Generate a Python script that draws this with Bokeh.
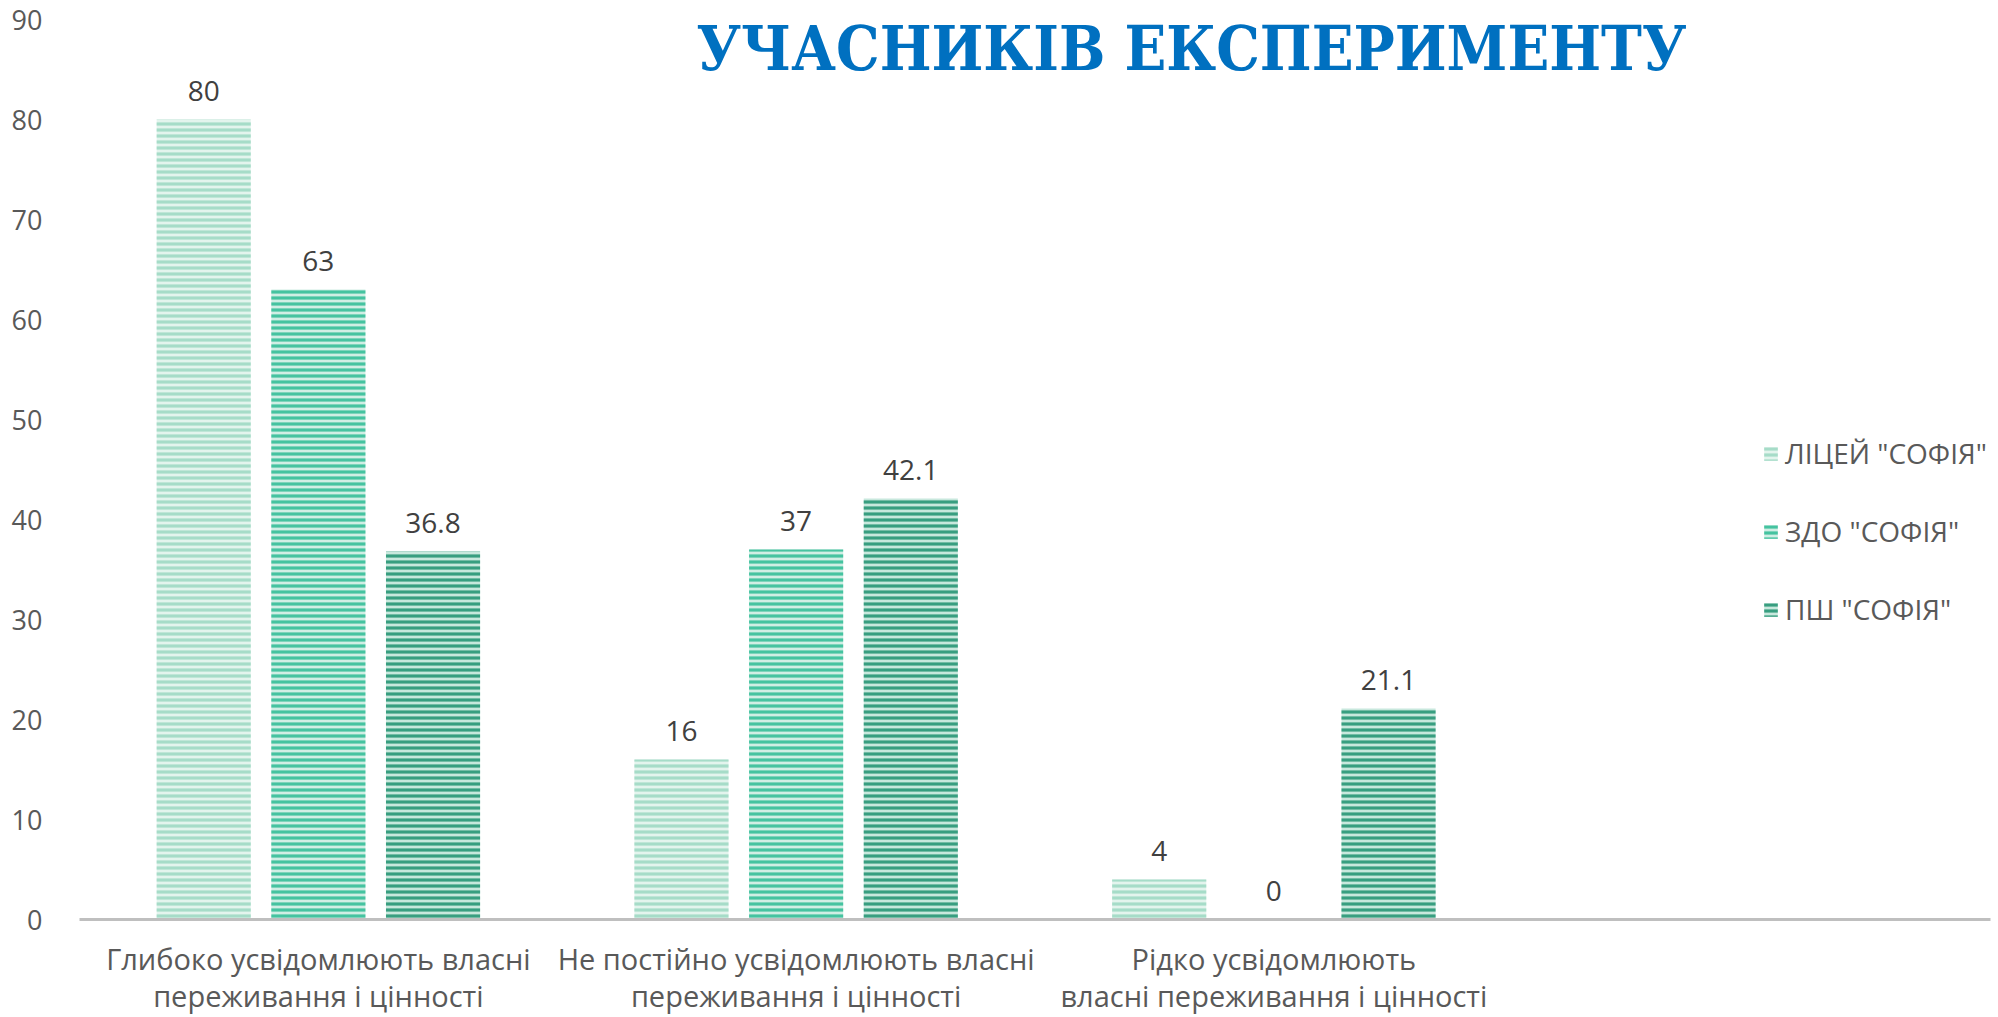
from bokeh.plotting import figure
from bokeh.models import ColumnDataSource, FactorRange, LabelSet, Label, Legend, LegendItem, FixedTicker
from bokeh.transform import dodge
from bokeh.embed import file_html
from bokeh.resources import INLINE
from bokeh.core.properties import value

# ---- data ----
categories = [
    "Глибоко усвідомлюють власні\nпереживання і цінності",
    "Не постійно усвідомлюють власні\nпереживання і цінності",
    "Рідко усвідомлюють\nвласні переживання і цінності",
    " ",
]
series_names = ['ЛІЦЕЙ "СОФІЯ"', 'ЗДО "СОФІЯ"', 'ПШ "СОФІЯ"']
licey = [80, 16, 4]
zdo = [63, 37, 0]
psh = [36.8, 42.1, 21.1]
y_ticks = [0, 10, 20, 30, 40, 50, 60, 70, 80, 90]
title_text = "УЧАСНИКІВ ЕКСПЕРИМЕНТУ"

# ---- style ----
bg_colors = ["#e3f4ed", "#d0eee4", "#c8e8dd"]
stripe_colors = ["#a6dcc8", "#45c3a0", "#389e80"]
offsets = [-0.24, 0.0, 0.24]
bar_w = 0.197
tick_font = "Open Sans"

p = figure(
    x_range=FactorRange(factors=categories, range_padding=0, factor_padding=0),
    y_range=(0, 90),
    width=1998, height=1017,
    output_backend="svg", toolbar_location=None,
    min_border_left=79, min_border_right=8, min_border_top=19, min_border_bottom=98,
)
p.outline_line_color = None
p.xgrid.grid_line_color = None
p.ygrid.grid_line_color = None
p.background_fill_color = "white"
p.border_fill_color = "white"

p.yaxis.ticker = FixedTicker(ticks=y_ticks)
p.yaxis.axis_line_color = None
p.yaxis.major_tick_line_color = None
p.yaxis.minor_tick_line_color = None
p.yaxis.major_label_standoff = 31
p.yaxis.major_label_text_font = tick_font
p.yaxis.major_label_text_font_size = "27px"
p.yaxis.major_label_text_color = "#595959"

p.xaxis.axis_line_color = "#bfbfbf"
p.xaxis.axis_line_width = 3
p.xaxis.major_tick_line_color = None
p.xaxis.minor_tick_line_color = None
p.xaxis.major_label_standoff = 13
p.xaxis.major_label_text_font = tick_font
p.xaxis.major_label_text_font_size = "29px"
p.xaxis.major_label_text_color = "#595959"
p.xaxis.major_label_text_line_height = 0.96

cats = categories[:3]
values_list = [licey, zdo, psh]


def fmt(v):
    return str(int(v)) if float(v).is_integer() else str(v)


items = []
for name, vals, off, bg, st in zip(series_names, values_list, offsets, bg_colors, stripe_colors):
    src = ColumnDataSource(dict(cat=cats, top=vals, label=[fmt(v) for v in vals]))
    r = p.vbar(x=dodge("cat", off, range=p.x_range), top="top", width=bar_w, source=src,
               fill_color=bg, line_color=None,
               hatch_pattern="horizontal_line", hatch_color=st, hatch_scale=6, hatch_weight=3.2)
    items.append(LegendItem(label=name, renderers=[r]))
    p.add_layout(LabelSet(x=dodge("cat", off, range=p.x_range), y="top", text="label", source=src,
                          y_offset=19, text_align="center", text_baseline="alphabetic",
                          text_font=value(tick_font), text_font_size="28px", text_color="#404040"))

legend = Legend(items=items, location=(1683, 291), orientation="vertical",
                glyph_width=17, glyph_height=17, label_height=30, spacing=40,
                padding=0, margin=0, label_standoff=6,
                label_text_font=tick_font, label_text_font_size="28px", label_text_color="#595959",
                border_line_color=None, background_fill_alpha=0)
p.add_layout(legend, "center")

p.add_layout(Label(x=1112, y=87.1, x_units="screen", y_units="data", text=title_text,
                   text_align="center", text_baseline="alphabetic",
                   text_font="DejaVu Serif Condensed", text_font_style="bold",
                   text_font_size="61px", text_color="#0070c0"))

open("out.html", "w").write(file_html(p, INLINE))
